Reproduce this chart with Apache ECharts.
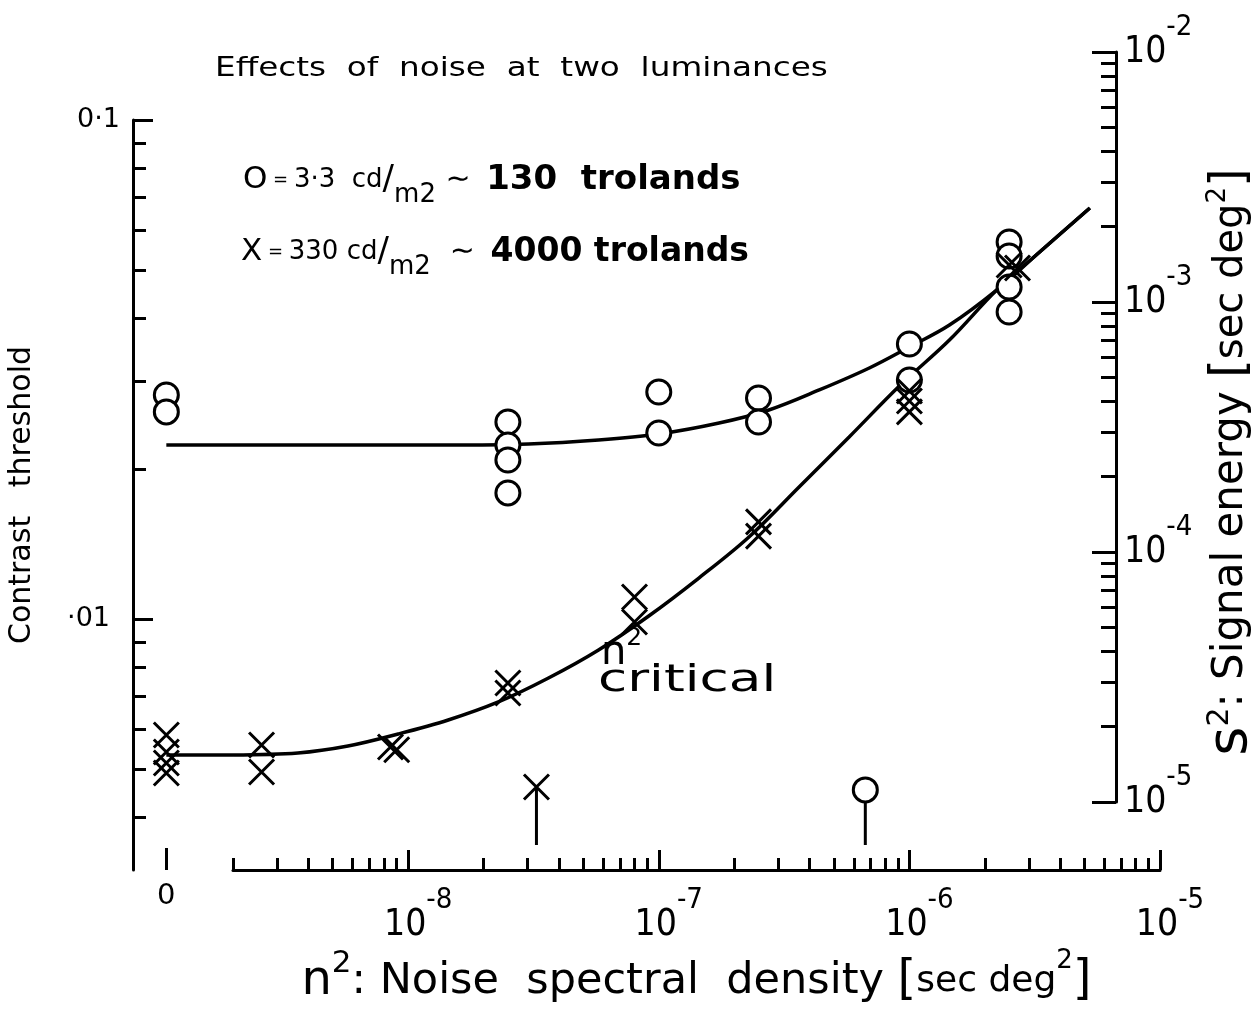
<!DOCTYPE html>
<html>
<head>
<meta charset="utf-8">
<script src="https://cdn.jsdelivr.net/npm/echarts@6/dist/echarts.min.js"></script>
<style>
  html, body { margin: 0; padding: 0; background: #fff; }
  #chart { width: 1255px; height: 1016px; }
</style>
</head>
<body>
<div id="chart"></div>
<script>
// ---- Axis ranges ----
const noiseRange = [2e-9, 1e-5];        // n^2 [sec deg^2]
const contrastRange = [0.00314, 0.1];   // contrast threshold
const energyRange = [1e-5, 1e-2];       // s^2 [sec deg^2]
const zeroPanelRange = [-1, 2];         // the separate "n^2 = 0" column

// ---- Tick values ----
const noiseMajorTicks = [1e-8, 1e-7, 1e-6, 1e-5];
const noiseMinorTicks = [2e-9, 3e-9, 4e-9, 5e-9, 6e-9, 7e-9, 8e-9, 9e-9,
  2e-8, 3e-8, 4e-8, 5e-8, 6e-8, 7e-8, 8e-8, 9e-8,
  2e-7, 3e-7, 4e-7, 5e-7, 6e-7, 7e-7, 8e-7, 9e-7,
  2e-6, 3e-6, 4e-6, 5e-6, 6e-6, 7e-6, 8e-6, 9e-6];
const contrastMajorTicks = [0.01, 0.1];
const contrastMinorTicks = [0.004, 0.005, 0.006, 0.007, 0.008, 0.009,
  0.02, 0.03, 0.04, 0.05, 0.06, 0.07, 0.08, 0.09];
const energyMajorTicks = [1e-5, 1e-4, 1e-3, 1e-2];
const energyMinorTicks = [2e-5, 3e-5, 4e-5, 5e-5, 6e-5, 7e-5, 8e-5, 9e-5,
  2e-4, 3e-4, 4e-4, 5e-4, 6e-4, 7e-4, 8e-4, 9e-4,
  2e-3, 3e-3, 4e-3, 5e-3, 6e-3, 7e-3, 8e-3, 9e-3];
const zeroTicks = [0];

// ---- Measured thresholds, no added noise (n^2 = 0) ----
const zeroNoiseLow = [0.02812, 0.02600];                        // 3.3 cd/m2
const zeroNoiseHigh = [0.005855, 0.005413, 0.005145, 0.004913]; // 330 cd/m2

// ---- Measured thresholds with noise: [n^2, contrast] ----
const lowLumPoints = [
  [2.5e-8, 0.02482], [2.5e-8, 0.02232], [2.5e-8, 0.02083], [2.5e-8, 0.01789],
  [1e-7, 0.02850], [1e-7, 0.02359],
  [2.5e-7, 0.02773], [2.5e-7, 0.02482],
  [1e-6, 0.03557], [1e-6, 0.03013],
  [2.5e-6, 0.05694], [2.5e-6, 0.05340], [2.5e-6, 0.04627], [2.5e-6, 0.04123]
];
const highLumPoints = [
  [2.6e-9, 0.005591], [2.6e-9, 0.004935],
  [8.5e-9, 0.005539], [9e-9, 0.005468],
  [2.5e-8, 0.007440], [2.5e-8, 0.007106],
  [8e-8, 0.01107], [8e-8, 0.009863],
  [2.5e-7, 0.01565], [2.5e-7, 0.01466],
  [1e-6, 0.02863], [1e-6, 0.02734], [1e-6, 0.02600],
  [2.5e-6, 0.05121], [2.7e-6, 0.05051]
];

// ---- Fitted curves: [n^2, contrast] ----
const lowLumCurve = [
  [2e-9, 0.02232], [1.445e-8, 0.02232], [3.02e-8, 0.02243], [5.75e-8, 0.02284],
  [1e-7, 0.02348], [1.74e-7, 0.02470], [2.75e-7, 0.02623], [4.37e-7, 0.02877],
  [6.92e-7, 0.03184], [1e-6, 0.03508], [1.445e-6, 0.03883], [2.23e-6, 0.04563],
  [3.31e-6, 0.05438], [5.25e-6, 0.06663]
];
const highLumCurve = [
  [2e-9, 0.005339], [3.63e-9, 0.005388], [5.75e-9, 0.005564], [9.12e-9, 0.005881],
  [1.445e-8, 0.006275], [2.29e-8, 0.006820], [3.63e-8, 0.007616], [5.75e-8, 0.008668],
  [9.12e-8, 0.01014], [1.445e-7, 0.01208], [2.29e-7, 0.01460], [3.63e-7, 0.01839],
  [5.75e-7, 0.02316], [9.12e-7, 0.02930], [1.445e-6, 0.03623], [2.23e-6, 0.04563],
  [3.31e-6, 0.05438], [5.25e-6, 0.06663]
];

// ---- Critical noise levels: marker [n^2, contrast] and foot of the pointer ----
const criticalHigh = [3.25e-8, 0.004606];
const criticalLow = [6.67e-7, 0.004544];
const criticalFoot = 0.003524;

const FONT = '"DejaVu Sans", "Noto Sans", sans-serif';
const NUMFONT = '"Liberation Sans Narrow", "DejaVu Sans Condensed", "Roboto Condensed", Roboto, sans-serif';
const INK = '#000';

// "10" with a raised negative exponent
const powRich = {
  sp: { fontFamily: NUMFONT, fontSize: 20, width: 20, lineHeight: 78, color: INK },
  b: { fontFamily: NUMFONT, fontSize: 37, lineHeight: 78, color: INK },
  s: { fontFamily: NUMFONT, fontSize: 29, lineHeight: 28, verticalAlign: 'top', color: INK }
};
const powLabel = v => '{b|10}{s|-' + Math.abs(Math.round(Math.log10(v))) + '}';
const powLabelCentred = v => '{sp| }' + powLabel(v);

const tickStyle = w => ({ color: INK, width: w });
const X_SYMBOL = 'path://M0,0L10,10M10,0L0,10';
const circleStyle = { color: '#fff', borderColor: INK, borderWidth: 3, opacity: 1 };
const crossStyle = { color: 'transparent', borderColor: INK, borderWidth: 3, opacity: 1 };
const curveStyle = { color: INK, width: 3.5 };

const legendRich = boldSize => ({
  o: { fontFamily: FONT, fontSize: 31, lineHeight: 56, fill: INK },
  e: { fontFamily: FONT, fontSize: 18, lineHeight: 56, fill: INK },
  n: { fontFamily: FONT, fontSize: 26, lineHeight: 56, fill: INK },
  sl: { fontFamily: FONT, fontSize: 34, lineHeight: 56, fill: INK },
  m: { fontFamily: FONT, fontSize: 26, lineHeight: 24, verticalAlign: 'bottom', fill: INK },
  t: { fontFamily: FONT, fontSize: 30, lineHeight: 56, fill: INK },
  b: { fontFamily: FONT, fontSize: boldSize, fontWeight: 'bold', lineHeight: 56, fill: INK, padding: [0, 0, 0, 6] }
});

const chart = echarts.init(document.getElementById('chart'), null, { renderer: 'canvas' });

chart.setOption({
  animation: false,
  backgroundColor: '#fff',
  grid: [
    { left: 233, top: 120, width: 927, height: 750, outerBoundsMode: 'none' },   // main plot
    { left: 133, top: 120, width: 100, height: 750, outerBoundsMode: 'none' },   // n^2 = 0 column
    { left: 233, top: 52, width: 883, height: 750, outerBoundsMode: 'none' }     // signal energy scale
  ],
  xAxis: [
    {
      gridIndex: 0, type: 'log', logBase: 10, min: noiseRange[0], max: noiseRange[1], position: 'bottom',
      axisLine: { show: true, onZero: false, lineStyle: { color: INK, width: 3 } },
      axisTick: { show: true, inside: true, length: 20, lineStyle: tickStyle(3), customValues: noiseMajorTicks },
      axisLabel: { show: true, customValues: noiseMajorTicks, formatter: powLabelCentred, rich: powRich, margin: 16 },
      splitLine: { show: false },
      name: '{n|n}{s|2}{t|: Noise  spectral  density }{br|[}{u|sec deg}{s2|2}{br|]}',
      nameLocation: 'middle', nameGap: 76,
      nameTextStyle: {
        color: INK,
        rich: {
          n: { fontFamily: FONT, fontSize: 48, lineHeight: 66, color: INK },
          s: { fontFamily: FONT, fontSize: 31, lineHeight: 30, verticalAlign: 'top', color: INK },
          t: { fontFamily: FONT, fontSize: 43, lineHeight: 66, color: INK },
          br: { fontFamily: FONT, fontSize: 48, lineHeight: 66, color: INK },
          u: { fontFamily: FONT, fontSize: 36, lineHeight: 66, color: INK },
          s2: { fontFamily: FONT, fontSize: 26, lineHeight: 30, verticalAlign: 'top', color: INK }
        }
      }
    },
    {
      gridIndex: 0, type: 'log', logBase: 10, min: noiseRange[0], max: noiseRange[1], position: 'bottom',
      axisLine: { show: false, onZero: false },
      axisTick: { show: true, inside: true, length: 12, lineStyle: tickStyle(3), customValues: noiseMinorTicks },
      axisLabel: { show: false },
      splitLine: { show: false }
    },
    {
      gridIndex: 1, type: 'value', min: zeroPanelRange[0], max: zeroPanelRange[1], position: 'bottom',
      axisLine: { show: false, onZero: false },
      axisTick: { show: true, inside: true, length: 22, lineStyle: tickStyle(3), customValues: zeroTicks },
      axisLabel: { show: true, customValues: zeroTicks, fontFamily: FONT, fontSize: 29, color: INK, margin: 12 },
      splitLine: { show: false }
    },
    { gridIndex: 2, type: 'value', show: false, splitLine: { show: false } }
  ],
  yAxis: [
    { gridIndex: 0, type: 'log', logBase: 10, min: contrastRange[0], max: contrastRange[1], show: false },
    {
      gridIndex: 1, type: 'log', logBase: 10, min: contrastRange[0], max: contrastRange[1], position: 'left',
      axisLine: { show: true, onZero: false, lineStyle: { color: INK, width: 3 } },
      axisTick: { show: true, inside: true, length: 20, lineStyle: tickStyle(3), customValues: contrastMajorTicks },
      axisLabel: {
        show: true, customValues: contrastMajorTicks, margin: 13,
        formatter: v => (v > 0.05 ? '0·1' : '{p|·01}'),
        fontFamily: FONT, fontSize: 27, color: INK,
        rich: { p: { fontFamily: FONT, fontSize: 27, color: INK, padding: [0, 10, 0, 0] } }
      },
      splitLine: { show: false },
      name: 'Contrast   threshold', nameLocation: 'middle', nameRotate: 90, nameGap: 96,
      nameTextStyle: { fontFamily: FONT, fontSize: 30, color: INK }
    },
    {
      gridIndex: 1, type: 'log', logBase: 10, min: contrastRange[0], max: contrastRange[1], position: 'left',
      axisLine: { show: false, onZero: false },
      axisTick: { show: true, inside: true, length: 13, lineStyle: tickStyle(3), customValues: contrastMinorTicks },
      axisLabel: { show: false },
      splitLine: { show: false }
    },
    {
      gridIndex: 2, type: 'log', logBase: 10, min: energyRange[0], max: energyRange[1], position: 'right',
      axisLine: { show: true, onZero: false, lineStyle: { color: INK, width: 3 } },
      axisTick: { show: true, inside: true, length: 24, lineStyle: tickStyle(3), customValues: energyMajorTicks },
      axisLabel: { show: true, customValues: energyMajorTicks, formatter: powLabel, rich: powRich, margin: 8 },
      splitLine: { show: false },
      name: '{s|s}{p|2}{t|: Signal energy }{br|[}{u|sec deg}{p2|2}{br|]}{g| }',
      nameLocation: 'middle', nameRotate: 90, nameGap: 73,
      nameTextStyle: {
        color: INK,
        rich: {
          s: { fontFamily: FONT, fontSize: 56, lineHeight: 52, color: INK },
          p: { fontFamily: FONT, fontSize: 30, lineHeight: 26, verticalAlign: 'top', color: INK },
          t: { fontFamily: FONT, fontSize: 42, lineHeight: 52, color: INK },
          br: { fontFamily: FONT, fontSize: 48, lineHeight: 52, color: INK },
          u: { fontFamily: FONT, fontSize: 40, lineHeight: 52, color: INK },
          p2: { fontFamily: FONT, fontSize: 26, lineHeight: 26, verticalAlign: 'top', color: INK },
          g: { fontFamily: FONT, fontSize: 10, width: 70, lineHeight: 52, color: INK }
        }
      }
    },
    {
      gridIndex: 2, type: 'log', logBase: 10, min: energyRange[0], max: energyRange[1], position: 'right',
      axisLine: { show: false, onZero: false },
      axisTick: { show: true, inside: true, length: 15, lineStyle: tickStyle(3), customValues: energyMinorTicks },
      axisLabel: { show: false },
      splitLine: { show: false }
    }
  ],
  series: [
    // fitted curves
    { type: 'line', name: '3.3 cd/m2 fit', xAxisIndex: 0, yAxisIndex: 0, data: lowLumCurve,
      smooth: 0.35, showSymbol: false, lineStyle: curveStyle, z: 2 },
    { type: 'line', name: '330 cd/m2 fit', xAxisIndex: 0, yAxisIndex: 0, data: highLumCurve,
      smooth: 0.35, showSymbol: false, lineStyle: curveStyle, z: 2 },
    // curve plateaus carried across the n^2 = 0 column
    { type: 'line', xAxisIndex: 2, yAxisIndex: 1,
      data: [[0, lowLumCurve[0][1]], [zeroPanelRange[1], lowLumCurve[0][1]]],
      showSymbol: false, lineStyle: curveStyle, z: 2 },
    { type: 'line', xAxisIndex: 2, yAxisIndex: 1,
      data: [[0, highLumCurve[0][1]], [zeroPanelRange[1], highLumCurve[0][1]]],
      showSymbol: false, lineStyle: curveStyle, z: 2 },
    // critical-noise pointers
    { type: 'line', xAxisIndex: 0, yAxisIndex: 0, data: [criticalHigh, [criticalHigh[0], criticalFoot]],
      showSymbol: false, lineStyle: { color: INK, width: 3 }, z: 2 },
    { type: 'line', xAxisIndex: 0, yAxisIndex: 0, data: [criticalLow, [criticalLow[0], criticalFoot]],
      showSymbol: false, lineStyle: { color: INK, width: 3 }, z: 2 },
    // data points, 3.3 cd/m2 (circles)
    { type: 'scatter', name: '3.3 cd/m2', xAxisIndex: 0, yAxisIndex: 0,
      data: lowLumPoints.concat([criticalLow]),
      symbol: 'circle', symbolSize: 24, itemStyle: circleStyle, z: 5 },
    { type: 'scatter', xAxisIndex: 2, yAxisIndex: 1,
      data: zeroNoiseLow.map(c => [0, c]),
      symbol: 'circle', symbolSize: 24, itemStyle: circleStyle, z: 5 },
    // data points, 330 cd/m2 (crosses)
    { type: 'scatter', name: '330 cd/m2', xAxisIndex: 0, yAxisIndex: 0,
      data: highLumPoints.concat([criticalHigh]),
      symbol: X_SYMBOL, symbolSize: 25, itemStyle: crossStyle, z: 6 },
    { type: 'scatter', xAxisIndex: 2, yAxisIndex: 1,
      data: zeroNoiseHigh.map(c => [0, c]),
      symbol: X_SYMBOL, symbolSize: 25, itemStyle: crossStyle, z: 6 }
  ],
  graphic: [
    { type: 'text', left: 215, top: 55, scaleX: 1.21,
      style: { text: 'Effects  of  noise  at  two  luminances', fontFamily: FONT, fontSize: 27, fill: INK } },
    { type: 'text', left: 243, top: 163,
      style: { text: '{o|O}{e| = }{n|3·3  cd}{sl|/}{m|m2}{t| ∼ }{b|130  trolands}', rich: legendRich(34) } },
    { type: 'text', left: 241, top: 235,
      style: { text: '{o|X}{e| = }{n|330 cd}{sl|/}{m|m2}{t|  ∼ }{b|4000 trolands}', rich: legendRich(33) } },
    { type: 'text', left: 601, top: 626,
      style: {
        text: '{n|n}{s|2}',
        rich: {
          n: { fontFamily: FONT, fontSize: 40, lineHeight: 56, fill: INK },
          s: { fontFamily: FONT, fontSize: 25, lineHeight: 24, verticalAlign: 'top', fill: INK }
        }
      } },
    { type: 'text', left: 598, top: 662, scaleX: 1.4,
      style: { text: 'critical', fontFamily: FONT, fontSize: 38, lineHeight: 38, fill: INK } }
  ]
});
</script>
</body>
</html>
